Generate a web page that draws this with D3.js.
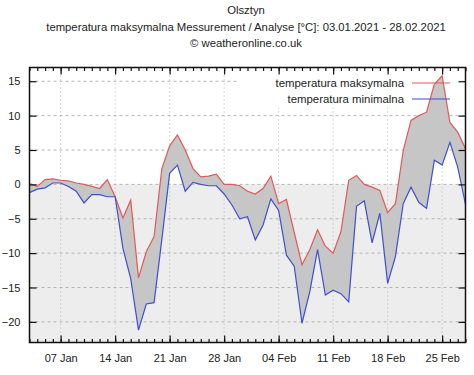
<!DOCTYPE html>
<html>
<head>
<meta charset="utf-8">
<script src="https://cdn.jsdelivr.net/npm/d3@7"></script>
<style>
  body { margin: 0; background: #fff; }
  text { font-family: "Liberation Sans", Arial, sans-serif; fill: #222; }
</style>
</head>
<body>
<div id="chart"></div>
<script>
var w = 474;
var h = 375;

// daily values 03.01.2021 - 28.02.2021
var startDay = "2021-01-03";
var tmax = [0.1, -0.3, 0.7, 0.8, 0.6, 0.5, 0.2, 0, -0.3, -0.6, 0.7,
    -1.8, -4.9, -2.3, -13.6, -9.8, -7.6, 2.3, 5.6, 7.2, 5.0,
    2.3, 1.1, 1.2, 1.5, 0, 0, -0.2, -1.0, -1.4, -0.6,
    1.2, -2.8, -2.2, -7.0, -11.7, -9.5, -6.6, -9.0, -10.0, -6.9,
    0.6, 1.3, 0.0, -0.4, -0.9, -4.1, -2.8, 4.9, 9.3, 10.0,
    10.5, 14.6, 15.8, 9.0, 7.6, 5.2];
var tmin = [-1.2, -0.7, -0.5, 0.2, 0.2, -0.3, -1.0, -2.7, -1.5, -1.5, -1.8,
    -1.8, -9.3, -13.7, -21.2, -17.4, -17.2, -8.0, 1.6, 2.8, -1.0,
    0.3, 0.0, -0.2, -0.2, -1.4, -3.0, -5.0, -4.7, -8.1, -5.9,
    -2.1, -3.8, -10.3, -11.9, -20.2, -15.6, -9.5, -16.1, -15.4, -15.9,
    -17.1, -3.2, -2.4, -8.5, -4.2, -14.4, -10.5, -2.8, -0.4, -2.6,
    -3.5, 3.5, 2.8, 6.1, 2.5, -2.9];
var yTicks = [-20, -15, -10, -5, 0, 5, 10, 15];
var xTickLabels = ["07 Jan", "14 Jan", "21 Jan", "28 Jan", "04 Feb", "11 Feb", "18 Feb", "25 Feb"];
var titleLines = ["Olsztyn",
    "temperatura maksymalna Messurement / Analyse [\u00b0C]: 03.01.2021 - 28.02.2021",
    "\u00a9 weatheronline.co.uk"];
var seriesNames = ["temperatura maksymalna", "temperatura minimalna"];

var pLeft = 29.5, pRight = 465.5, pTop = 67.5, pBottom = 342.5;

var parse = d3.utcParse("%Y-%m-%d");
var t0 = parse(startDay);
var data = tmax.map(function(d, i) {
    return { date: d3.utcDay.offset(t0, i), max: d, min: tmin[i] };
});

var x = d3.scaleUtc()
    .domain([t0, data[data.length - 1].date])
    .range([pLeft, pRight]);

var y = d3.scaleLinear()
    .domain([-23, 17])
    .range([pBottom, pTop]);

var weekTicks = xTickLabels.map(function(d, i) {
    return d3.utcDay.offset(t0, 4 + 7 * i);
});
var dayTicks = d3.utcDay.range(t0, d3.utcDay.offset(data[data.length - 1].date, 1));

var svg = d3.select("#chart")
    .append("svg")
    .attr("width", w)
    .attr("height", h);

// titles
svg.selectAll("text.title")
    .data(titleLines)
    .enter()
    .append("text")
    .attr("class", "title")
    .attr("x", 246)
    .attr("y", function(d, i) { return 14 + i * 16.5; })
    .attr("text-anchor", "middle")
    .style("font-size", "11.3px")
    .text(function(d) { return d; });

// gray below zero
svg.append("rect")
    .attr("x", pLeft)
    .attr("y", y(0))
    .attr("width", pRight - pLeft)
    .attr("height", pBottom - y(0))
    .style("fill", "#ededed");

// grid
svg.selectAll("line.hgrid")
    .data(yTicks)
    .enter()
    .append("line")
    .attr("x1", pLeft)
    .attr("x2", pRight)
    .attr("y1", function(d) { return y(d); })
    .attr("y2", function(d) { return y(d); })
    .style("stroke", "#b4b4b4")
    .style("stroke-width", 1)
    .style("stroke-dasharray", "3,3");

svg.selectAll("line.vgrid")
    .data(weekTicks)
    .enter()
    .append("line")
    .attr("x1", function(d) { return x(d); })
    .attr("x2", function(d) { return x(d); })
    .attr("y1", pTop)
    .attr("y2", pBottom)
    .style("stroke", "#b4b4b4")
    .style("stroke-width", 1)
    .style("stroke-dasharray", "1,3");

// legend box (hides grid behind it)
svg.append("rect")
    .attr("x", 238)
    .attr("y", pTop + 3)
    .attr("width", pRight - 241)
    .attr("height", 37)
    .style("fill", "#fff");

// band between max and min
var band = d3.area()
    .x(function(d) { return x(d.date); })
    .y0(function(d) { return y(d.min); })
    .y1(function(d) { return y(d.max); });

svg.append("path")
    .datum(data)
    .attr("d", band)
    .style("fill", "#c6c6c6");

// lines
var lineMax = d3.line()
    .x(function(d) { return x(d.date); })
    .y(function(d) { return y(d.max); });
var lineMin = d3.line()
    .x(function(d) { return x(d.date); })
    .y(function(d) { return y(d.min); });

svg.append("path")
    .datum(data)
    .attr("d", lineMax)
    .style("fill", "none")
    .style("stroke", "#e05a5a")
    .style("stroke-width", 1.2);

svg.append("path")
    .datum(data)
    .attr("d", lineMin)
    .style("fill", "none")
    .style("stroke", "#3f4fd0")
    .style("stroke-width", 1.2);

// legend
var legColors = ["#e05a5a", "#3f4fd0"];
var leg = svg.selectAll("g.leg")
    .data(seriesNames)
    .enter()
    .append("g")
    .attr("transform", function(d, i) { return "translate(0," + (83 + i * 16) + ")"; });

leg.append("text")
    .attr("x", 404)
    .attr("dy", "0.35em")
    .attr("text-anchor", "end")
    .style("font-size", "11.4px")
    .text(function(d) { return d; });

leg.append("line")
    .attr("x1", 412)
    .attr("x2", 450)
    .style("stroke", function(d, i) { return legColors[i]; })
    .style("stroke-width", 1.2);

// frame
svg.append("rect")
    .attr("x", pLeft)
    .attr("y", pTop)
    .attr("width", pRight - pLeft)
    .attr("height", pBottom - pTop)
    .style("fill", "none")
    .style("stroke", "#111")
    .style("stroke-width", 1.5);

// x axes (ticks inward)
var xBottom = d3.axisBottom(x).tickValues(weekTicks).tickSize(-7).tickFormat(function(d, i) { return xTickLabels[i]; }).tickPadding(12);
var gxb = svg.append("g")
    .attr("transform", "translate(0," + pBottom + ")")
    .call(xBottom);
gxb.selectAll("text").style("font-size", "11px");

svg.append("g")
    .attr("transform", "translate(0," + pBottom + ")")
    .call(d3.axisBottom(x).tickValues(dayTicks).tickSize(-3.5).tickFormat(""));

svg.append("g")
    .attr("transform", "translate(0," + pTop + ")")
    .call(d3.axisTop(x).tickValues(weekTicks).tickSize(-7).tickFormat(""));

svg.append("g")
    .attr("transform", "translate(0," + pTop + ")")
    .call(d3.axisTop(x).tickValues(dayTicks).tickSize(-3.5).tickFormat(""));

// y axes (ticks inward)
var gyl = svg.append("g")
    .attr("transform", "translate(" + pLeft + ",0)")
    .call(d3.axisLeft(y).tickValues(yTicks).tickSize(-7).tickPadding(9));
gyl.selectAll("text").style("font-size", "11px");

svg.append("g")
    .attr("transform", "translate(" + pRight + ",0)")
    .call(d3.axisRight(y).tickValues(yTicks).tickSize(-7).tickFormat(""));

svg.selectAll(".domain").remove();
svg.selectAll(".tick line").style("stroke", "#111").style("stroke-width", 1.2);
</script>
</body>
</html>
